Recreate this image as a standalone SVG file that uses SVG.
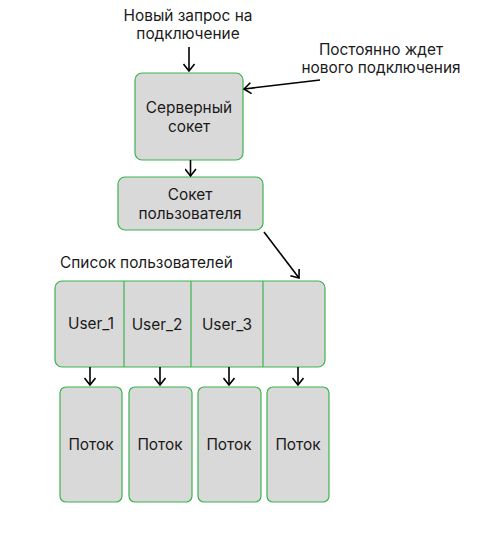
<svg xmlns="http://www.w3.org/2000/svg" width="481" height="534" viewBox="0 0 481 534">
<style>
.box{fill:#d9d9d9;stroke:#3cb44b;stroke-width:1.2}
.div{stroke:#3cb44b;stroke-width:1.2}
text{font-family:Inter,"Noto Sans",sans-serif;font-size:15.4px;fill:#1a1a1a}
.c{text-anchor:middle}
.conn line{stroke:#000;stroke-width:1.6;fill:none}
</style>
<defs>
<marker id="ah" viewBox="0 0 12 12" refX="9" refY="6" markerWidth="12" markerHeight="12" markerUnits="userSpaceOnUse" orient="auto">
<path d="M2,0.5 L9,6 L2,11.5" fill="none" stroke="#000" stroke-width="1.6"/>
</marker>
</defs>
<rect width="481" height="534" fill="#fff"/>
<text class="c" x="188" y="21">Новый запрос на</text>
<text class="c" x="188" y="39">подключение</text>
<text class="c" x="381" y="55">Постоянно ждет</text>
<text class="c" x="381" y="73">нового подключения</text>
<text x="60" y="268">Список пользователей</text>
<g id="server">
<rect class="box" x="135" y="73" width="108" height="87" rx="7"/>
<text class="c" x="189" y="113">Серверный</text>
<text class="c" x="189" y="132">сокет</text>
</g>
<g id="usersocket">
<rect class="box" x="118" y="177" width="145" height="53" rx="7"/>
<text class="c" x="190" y="200">Сокет</text>
<text class="c" x="190" y="219">пользователя</text>
</g>
<g id="userlist">
<rect class="box" x="55" y="281" width="270" height="86" rx="7"/>
<line class="div" x1="124" y1="281" x2="124" y2="367"/>
<line class="div" x1="191" y1="281" x2="191" y2="367"/>
<line class="div" x1="263" y1="281" x2="263" y2="367"/>
<text class="c" x="91" y="329">User_1</text>
<text class="c" x="157" y="330">User_2</text>
<text class="c" x="227" y="330">User_3</text>
</g>
<g id="t1"><rect class="box" x="60" y="387" width="62" height="115" rx="6"/><text class="c" x="91" y="450">Поток</text></g>
<g id="t2"><rect class="box" x="129" y="387" width="63" height="115" rx="6"/><text class="c" x="160" y="450">Поток</text></g>
<g id="t3"><rect class="box" x="198" y="387" width="63" height="115" rx="6"/><text class="c" x="229" y="450">Поток</text></g>
<g id="t4"><rect class="box" x="267" y="387" width="62" height="115" rx="6"/><text class="c" x="298" y="450">Поток</text></g>
<g id="connectors" class="conn">
<line x1="189" y1="47" x2="189" y2="71" marker-end="url(#ah)"/>
<line x1="320" y1="80" x2="244" y2="89" marker-end="url(#ah)"/>
<line x1="190.5" y1="160" x2="190.5" y2="176" marker-end="url(#ah)"/>
<line x1="264" y1="232" x2="299" y2="278" marker-end="url(#ah)"/>
<line x1="90" y1="367" x2="90" y2="385" marker-end="url(#ah)"/>
<line x1="160" y1="367" x2="160" y2="385" marker-end="url(#ah)"/>
<line x1="229" y1="367" x2="229" y2="385" marker-end="url(#ah)"/>
<line x1="298" y1="367" x2="298" y2="385" marker-end="url(#ah)"/>
</g>
</svg>
